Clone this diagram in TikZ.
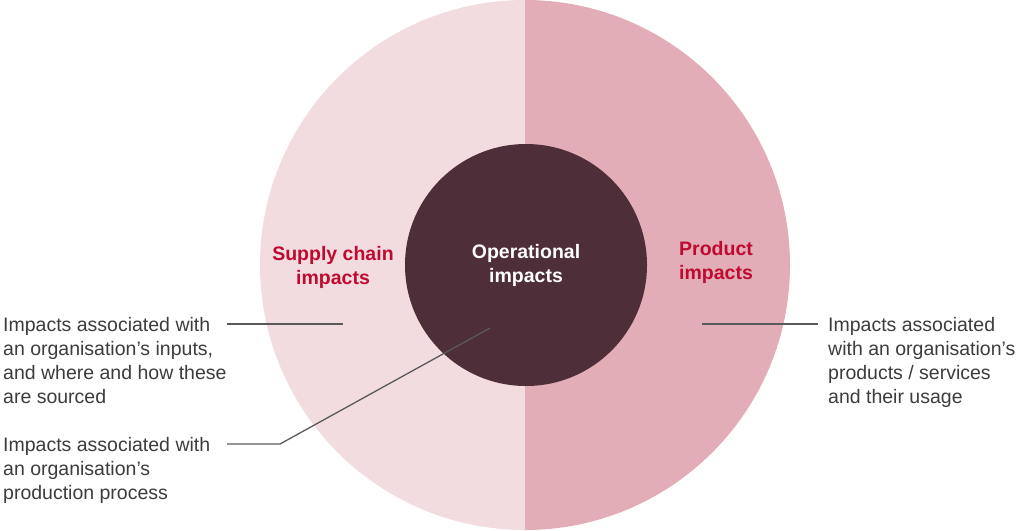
\documentclass[tikz,border=0pt]{standalone}
\usepackage{fontspec}
\setmainfont{Liberation Sans}
\usetikzlibrary{calc}
\definecolor{supplypink}{HTML}{F3DCE0}
\definecolor{productpink}{HTML}{E2ADB6}
\definecolor{opsdark}{HTML}{4E2E38}
\definecolor{headred}{HTML}{BF0A30}
\definecolor{notegray}{HTML}{3C3C3C}
\definecolor{leadgray}{HTML}{5A5A5A}

\begin{document}
\begin{tikzpicture}[
        x=1pt, y=-1pt, % 1 pt = 1 px, ось y вниз
        note/.style = {align=left, inner sep=0pt, text=notegray, font=\fontsize{19.5}{24}\selectfont}, % Пояснения
        head/.style = {align=center, inner sep=0pt, text=headred, font=\fontsize{19.5}{24}\selectfont\bfseries}, % Заголовки
        opcircle/.style = {circle, fill=opsdark, minimum size=242pt, inner sep=0pt, align=center, text=white, font=\fontsize{19.5}{24}\selectfont\bfseries}, % Внутренний круг
        lead/.style = {draw=leadgray, line width=1.3pt}, % Выноски
    ]

    \useasboundingbox (0,0) rectangle (1024,530);

    % Внешний круг из двух половин
    \fill[supplypink] (525,530) arc[start angle=90, end angle=270, radius=265] -- cycle;
    \fill[productpink] (525,530) arc[start angle=90, end angle=-90, radius=265] -- cycle;

    \node[opcircle] (ops) at (526,265) {Operational\\impacts};
    \node[head] (supply) at (333,267) {Supply chain\\impacts};
    \node[head] (product) at (716,262.5) {Product\\impacts};

    \coordinate (supplyend) at (343,324);
    \coordinate (prodbend) at (280,444);
    \coordinate (prodend) at (490,328);
    \coordinate (useend) at (702,324);

    \node[note, anchor=north west] (supplytxt) at (3,317) {Impacts associated with\\an organisation’s inputs,\\and where and how these\\are sourced};
    \node[note, anchor=north west] (prodtxt) at (3,437) {Impacts associated with\\an organisation’s\\production process};
    \node[note, anchor=north west] (usetxt) at (828,317) {Impacts associated\\with an organisation’s\\products / services\\and their usage};

    \draw[lead] ($(supplytxt.west |- supplyend)+(224,0)$) -- (supplyend);
    \draw[lead] ($(prodtxt.west |- prodbend)+(224,0)$) -- (prodbend) -- (prodend);
    \draw[lead] (useend) -- ($(usetxt.west |- useend)+(-10,0)$);
\end{tikzpicture}
\end{document}
